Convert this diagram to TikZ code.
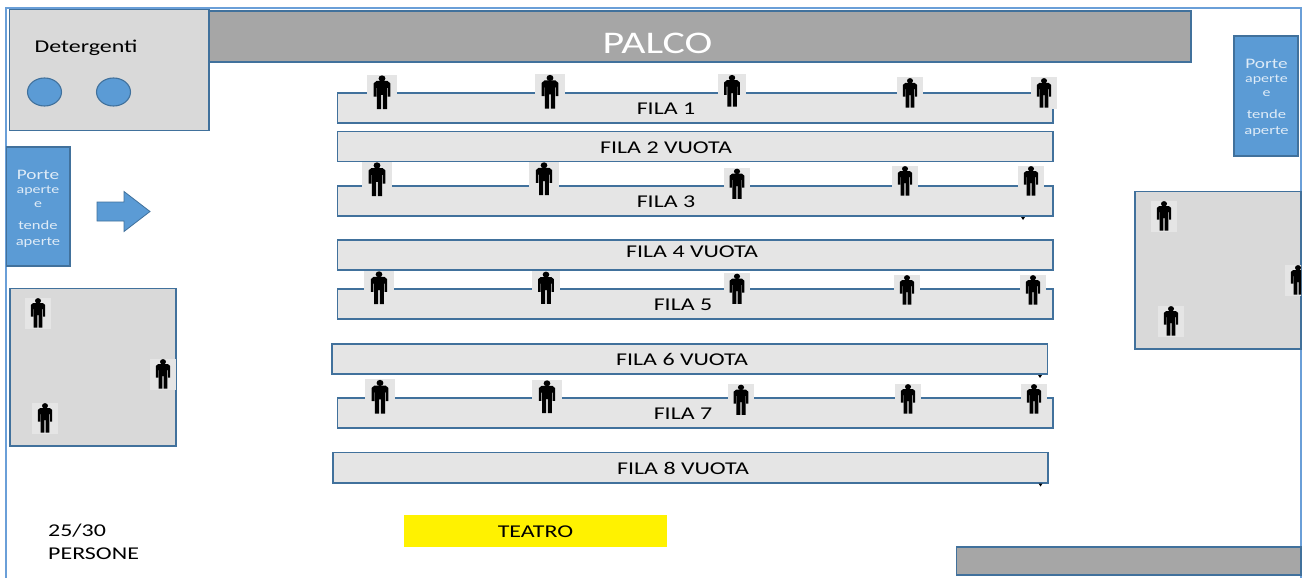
\documentclass[tikz,border=0pt]{standalone}
\usepackage{fontspec}
\setmainfont[FakeStretch=1.33]{Carlito}
\usetikzlibrary{shapes.geometric}
\definecolor{edge}{HTML}{41719C}
\definecolor{frameblue}{HTML}{6A9FD8}
\definecolor{doorblue}{HTML}{5B9BD5}
\definecolor{roomgray}{HTML}{D9D9D9}
\definecolor{rowgray}{HTML}{E5E5E5}
\definecolor{stagegray}{HTML}{A6A6A6}
\definecolor{doortext}{HTML}{DEEBF7}
\tikzset{
  box/.style={draw=edge,line width=1.1pt,inner sep=0pt,outer sep=0pt},
  rowbox/.style={box,fill=rowgray},
  room/.style={box,fill=roomgray},
  stage/.style={box,fill=stagegray},
  door/.style={box,fill=doorblue},
  lab/.style={inner sep=0pt,text=black,font=\fontsize{18}{23}\selectfont},
  doorlab/.style={inner sep=0pt,text=doortext},
  seat/.style={fill=rowgray,inner sep=0pt,outer sep=0pt},
  tick/.style={fill=black,draw=none}
}
% name, x, y, scale
\newcommand{\person}[4]{%
  \node[seat,minimum width=#4*26pt,minimum height=#4*31pt] (#1) at (#2,#3) {};
  \begin{scope}[shift={(#2,#3)},scale=#4]
    \fill[black] (0,-12.2) ellipse (3 and 2.7);
    \fill[black] (-4.8,-10) -- (4.8,-10) -- (7.2,-8) -- (7.2,3.5) -- (5,3.5) -- (5,-4) -- (4.4,-4) -- (4.4,14.5) -- (0.7,14.5) -- (0.7,2) -- (-0.7,2) -- (-0.7,14.5) -- (-4.4,14.5) -- (-4.4,-4) -- (-5,-4) -- (-5,3.5) -- (-7.2,3.5) -- (-7.2,-8) -- cycle;
  \end{scope}}
% name, x1, y1, x2, y2, style
\newcommand{\rectnode}[6]{%
  \node[#6,anchor=north west,minimum width=#4pt-#2pt,minimum height=#5pt-#3pt] (#1) at (#2,#3) {};}
% door label lines: prefix, x, y of the first line
\newcommand{\doortext}[3]{%
  \node[doorlab,font=\fontsize{14.5}{16}\selectfont] (#1a) at (#2,#3) {Porte};
  \node[doorlab,font=\fontsize{12}{14}\selectfont] (#1b) at (#2,#3+16) {aperte};
  \node[doorlab,font=\fontsize{12}{14}\selectfont] (#1c) at (#2,#3+30) {e};
  \node[doorlab,font=\fontsize{12.5}{14}\selectfont] (#1d) at (#2,#3+50) {tende};
  \node[doorlab,font=\fontsize{12.5}{14}\selectfont] (#1e) at (#2,#3+67.5) {aperte};}
\begin{document}
\begin{tikzpicture}[x=1pt,y=-1pt]
\useasboundingbox (0,0) rectangle (1304,578);
\fill[white] (0,0) rectangle (1304,578);
% outer frame
\draw[frameblue,line width=2pt] (5.5,578) -- (5.5,8.5) -- (1301,8.5) -- (1301,578);
% stage and rooms
\rectnode{palco}{209}{11}{1191}{62}{stage}
\node[inner sep=0pt,text=white,font=\fontsize{31.5}{34}\selectfont] (palcot) at (657.5,43.5) {PALCO};
\rectnode{det}{9.5}{9.5}{209}{130.5}{room}
\node[lab] (dett) at (86,47.5) {Detergenti};
\node[box,fill=doorblue,ellipse,minimum width=34pt,minimum height=28pt] (c1) at (44.5,92) {};
\node[box,fill=doorblue,ellipse,minimum width=34pt,minimum height=28pt] (c2) at (113.5,92) {};
% doors
\rectnode{dl}{6.5}{147}{70}{266}{door}
\doortext{dl}{38}{175}
\rectnode{dr}{1234}{36}{1298}{156}{door}
\doortext{dr}{1266.5}{64}
\fill[doorblue,draw=edge,line width=0.8pt] (97,202) -- (124,202) -- (124,191.5) -- (150,211.5) -- (124,231.5) -- (124,221) -- (97,221) -- cycle;
% side rooms
\rectnode{rl}{10}{288.5}{176}{446}{room}
\rectnode{rr}{1135}{191.5}{1301}{349}{room}
% rows
\rectnode{f1}{337.5}{93}{1053}{123}{rowbox}
\rectnode{f2}{337.5}{131.5}{1053}{161.5}{rowbox}
\rectnode{f3}{337.5}{186}{1053}{216}{rowbox}
\rectnode{f4}{337.5}{240}{1053}{270}{rowbox}
\rectnode{f5}{337.5}{289}{1053}{319}{rowbox}
\rectnode{f6}{332}{344}{1047.5}{374}{rowbox}
\rectnode{f7}{337.5}{398}{1053}{428}{rowbox}
\rectnode{f8}{333}{452.5}{1048}{483}{rowbox}
\fill[tick] (1021,217) -- (1025,217) -- (1023,220) -- cycle;
\fill[tick] (1038,375) -- (1042,375) -- (1040,378) -- cycle;
\fill[tick] (1038.5,483.5) -- (1042.5,483.5) -- (1040.5,486.5) -- cycle;
% people
\person{p11}{382}{92.5}{1.15}
\person{p12}{550}{92}{1.15}
\person{p13}{732}{91}{1.08}
\person{p14}{910}{93}{1}
\person{p15}{1044}{93}{1}
\person{p31}{377}{179.5}{1.15}
\person{p32}{544}{179}{1.12}
\person{p33}{737}{184}{1.03}
\person{p34}{905}{181}{1}
\person{p35}{1031}{181}{1}
\person{p51}{379}{288}{1.12}
\person{p52}{546}{288}{1.1}
\person{p53}{737}{289}{1.03}
\person{p54}{907}{290}{1}
\person{p55}{1033}{290}{1}
\person{p71}{380}{397}{1.15}
\person{p72}{547}{397}{1.12}
\person{p73}{741}{400}{1.03}
\person{p74}{908}{399}{1}
\person{p75}{1034}{399}{1}
\person{l1}{38}{313}{1}
\person{l2}{163}{374}{1}
\person{l3}{45}{418}{1}
\person{r1}{1164}{216}{1}
\person{r3}{1171}{321}{1}
\begin{scope}
\clip (1280,260) rectangle (1301,300);
\person{r2}{1298}{280}{1}
\end{scope}
% row labels
\node[lab] (f1t) at (666,108.5) {FILA 1};
\node[lab] (f2t) at (666,147.5) {FILA 2 VUOTA};
\node[lab] (f3t) at (666,201.5) {FILA 3};
\node[lab] (f4t) at (692,251.5) {FILA 4 VUOTA};
\node[lab] (f5t) at (683,304.5) {FILA 5};
\node[lab] (f6t) at (682,359.5) {FILA 6 VUOTA};
\node[lab] (f7t) at (683,413.5) {FILA 7};
\node[lab] (f8t) at (683,468.5) {FILA 8 VUOTA};
% bottom
\node[fill=yellow,inner sep=0pt,outer sep=0pt,anchor=north west,minimum width=263pt,minimum height=32pt] (teatro) at (404,515) {};
\node[lab] (teatrot) at (535.5,531.5) {TEATRO};
\node[lab,anchor=north west,align=left] (pers) at (48,524) {25/30\\PERSONE};
\rectnode{bar}{956.5}{547}{1301}{575}{stage}
\end{tikzpicture}
\end{document}
